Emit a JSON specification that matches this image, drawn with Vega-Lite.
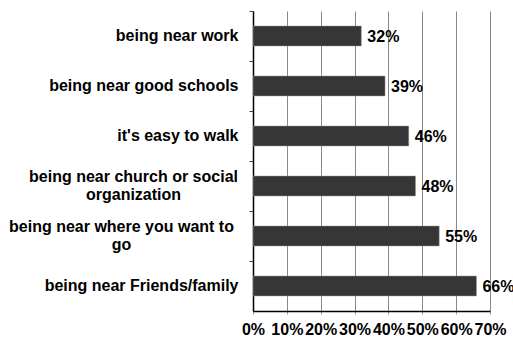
{
  "$schema": "https://vega.github.io/schema/vega-lite/v6.json",
  "autosize": "none",
  "width": 237,
  "height": 300,
  "padding": {"left": 253, "top": 11, "right": 23, "bottom": 26},
  "background": "white",
  "data": {"values": [
    {"label": "being near work", "value": 0.32},
    {"label": "being near good schools", "value": 0.39},
    {"label": "it's easy to walk", "value": 0.46},
    {"label": "being near church or social|organization", "value": 0.48},
    {"label": "being near where you want to|go", "value": 0.55},
    {"label": "being near Friends/family", "value": 0.66}
  ]},
  "config": {
    "view": {"stroke": null},
    "font": "Liberation Sans"
  },
  "encoding": {
    "y": {
      "field": "label", "type": "nominal", "sort": null,
      "scale": {"paddingInner": 0, "paddingOuter": 0},
      "axis": {
        "title": null,
        "bandPosition": 0,
        "labelExpr": "split(datum.value, '|')",
        "labelFont": "Liberation Sans",
        "labelFontSize": 16,
        "labelFontWeight": "bold",
        "labelColor": "black",
        "labelLimit": 300,
        "labelLineHeight": 18,
        "labelAlign": {"condition": {"test": "indexof(datum.value, '|') >= 0", "value": "center"}, "value": "right"},
        "labelOffset": {"condition": {"test": "indexof(datum.value, '|') >= 0", "value": -9}, "value": 0},
        "labelPadding": {"condition": [
          {"test": "indexof(datum.value, 'church') >= 0", "value": 116},
          {"test": "indexof(datum.value, 'where') >= 0", "value": 128}
        ], "value": 11},
        "tickSize": 4,
        "tickColor": "#444",
        "domainColor": "black",
        "domainWidth": 1.5,
        "grid": false
      }
    },
    "x": {
      "field": "value", "type": "quantitative",
      "scale": {"domain": [0, 0.7], "nice": false},
      "axis": {
        "title": null,
        "format": ".0%",
        "values": [0, 0.1, 0.2, 0.3, 0.4, 0.5, 0.6, 0.7],
        "labelFont": "Liberation Sans",
        "labelFontSize": 16,
        "labelFontWeight": "bold",
        "labelColor": "black",
        "labelPadding": 7,
        "labelFlush": false,
        "labelOverlap": false,
        "tickSize": 3,
        "tickColor": "#999",
        "domainColor": "black",
        "domainWidth": 1.5,
        "grid": true,
        "gridColor": "#888",
        "gridWidth": 1
      }
    }
  },
  "layer": [
    {
      "mark": {"type": "bar", "height": {"band": 0.4}, "fill": "#363636", "stroke": "#999", "strokeWidth": 0.5}
    },
    {
      "mark": {"type": "text", "align": "left", "baseline": "middle", "dx": 6, "dy": 1, "font": "Liberation Sans", "fontSize": 16, "fontWeight": "bold", "color": "black"},
      "encoding": {"text": {"field": "value", "type": "quantitative", "format": ".0%"}}
    }
  ]
}
